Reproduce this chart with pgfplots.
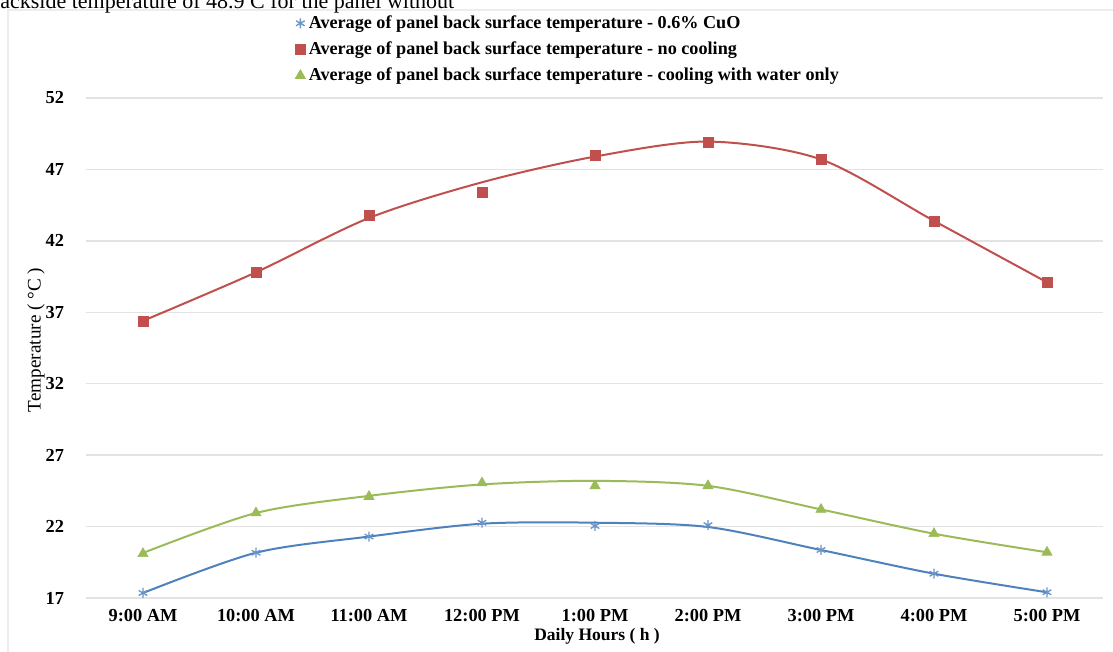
\documentclass[border=0pt]{standalone}
\usepackage{fontspec}
\setmainfont{Liberation Serif}
\usepackage{pgfplots}
\pgfplotsset{compat=1.18}
\definecolor{cblue}{HTML}{4F81BD}
\definecolor{cred}{HTML}{C0504D}
\definecolor{cgreen}{HTML}{9BBB59}
\definecolor{cgrid}{HTML}{E3E3E3}
\begin{document}
\begin{tikzpicture}[x=0.6pt,y=0.6pt]
\path[use as bounding box] (0,0) rectangle (1113,652);
\clip (0,0) rectangle (1113,652);
\draw[color=black!7, line width=0.9pt] (8,0) -- (8,642) -- (1113,642);
\node[anchor=base west, inner sep=0pt, font=\fontsize{13.2}{15}\selectfont] at (0,643) {ackside temperature of 48.9 C for the panel without};
\begin{axis}[
  at={(51.9pt,32.4pt)}, anchor=south west,
  scale only axis, width=610.2pt, height=300pt,
  xmin=-0.5, xmax=8.5, ymin=17, ymax=52,
  xtick={0,...,8},
  xticklabels={9:00 AM,10:00 AM,11:00 AM,12:00 PM,1:00 PM,2:00 PM,3:00 PM,4:00 PM,5:00 PM},
  ytick={17,22,...,52},
  ymajorgrids, grid style={cgrid, line width=0.9pt},
  axis line style={draw=none}, major tick length=0pt,
  tick label style={font=\bfseries\fontsize{11}{13}\selectfont},
  /pgf/number format/assume math mode=true,
  yticklabel style={xshift=-10pt},
  xticklabel style={yshift=-3pt},
  xlabel={Daily Hours ( h )},
  ylabel={Temperature ( °C )},
  every axis x label/.style={at={(rel axis cs:0.502,-0.076)}, anchor=center, font=\bfseries\fontsize{10.5}{12}\selectfont},
  every axis y label/.style={at={(rel axis cs:-0.0497,0.516)}, rotate=90, anchor=center, font=\fontsize{11.5}{13}\selectfont},
  legend style={at={(rel axis cs:0.205,1.172)}, anchor=north west, draw=none, fill=none, inner sep=0pt, row sep=2.5pt, font=\bfseries\fontsize{10.9}{12.5}\selectfont, cells={anchor=west}},
  legend image code/.code={\draw[mark repeat=2,mark phase=2,#1] plot coordinates {(0cm,0cm)(0.12cm,0cm)(0.24cm,0cm)};},
  clip=false,
]
% curves
\addplot[cblue, line width=1.2pt, smooth, no marks, forget plot] coordinates {
(0,17.35)(1,20.17)(2,21.3)(3,22.2)(4,22.27)(5,21.97)(6,20.36)(7,18.7)(8,17.4)};
\addplot[cred, line width=1.2pt, smooth, no marks, forget plot] coordinates {
(0,36.4)(1,39.8)(2,43.6)(3,46.1)(4,47.9)(5,48.95)(6,47.7)(7,43.4)(8,39.1)};
\addplot[cgreen, line width=1.2pt, smooth, no marks, forget plot] coordinates {
(0,20.15)(1,22.95)(2,24.15)(3,24.95)(4,25.2)(5,24.85)(6,23.2)(7,21.5)(8,20.2)};
% markers
\addplot[only marks, mark=asterisk, mark size=3pt, color=cblue!85, line width=0.8pt] coordinates {
(0,17.35)(1,20.17)(2,21.3)(3,22.27)(4,22.04)(5,22.1)(6,20.36)(7,18.7)(8,17.4)};
\addlegendentry{Average of panel back surface temperature - 0.6\% CuO}
\addplot[only marks, mark=square*, mark size=3pt, color=cred] coordinates {
(0,36.35)(1,39.8)(2,43.8)(3,45.4)(4,48.0)(5,48.9)(6,47.7)(7,43.4)(8,39.1)};
\addlegendentry{Average of panel back surface temperature - no cooling}
\addplot[only marks, mark=triangle*, mark size=3.5pt, color=cgreen] coordinates {
(0,20.1)(1,22.95)(2,24.1)(3,25.05)(4,24.85)(5,24.85)(6,23.2)(7,21.5)(8,20.2)};
\addlegendentry{Average of panel back surface temperature - cooling with water only}
\end{axis}
\end{tikzpicture}
\end{document}
